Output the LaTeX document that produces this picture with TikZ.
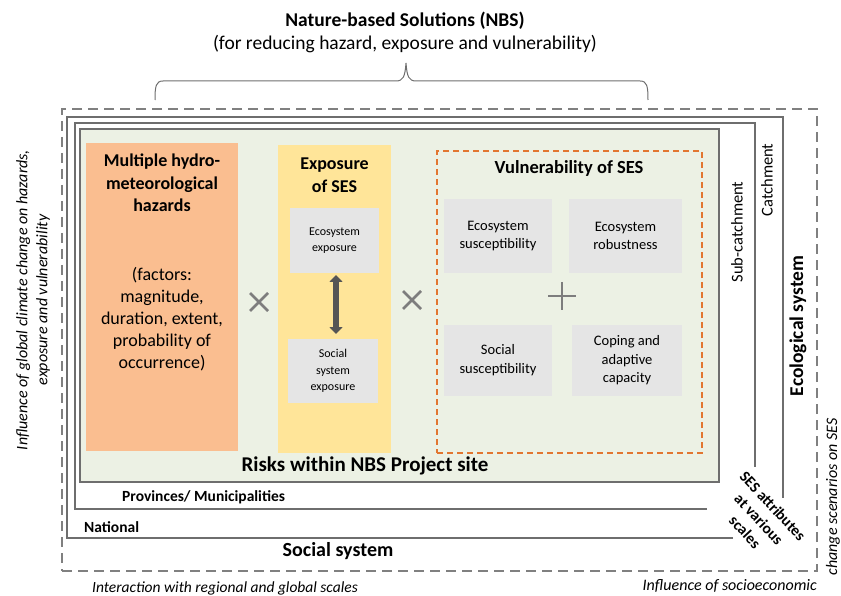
\documentclass[tikz,border=0pt]{standalone}
\usepackage{fontspec}
\setmainfont{Carlito}
\usetikzlibrary{arrows.meta}
\definecolor{greenfill}{RGB}{236,241,228}
\definecolor{orangefill}{RGB}{250,190,144}
\definecolor{yellowfill}{RGB}{255,229,153}
\definecolor{grayfill}{RGB}{229,229,229}
\definecolor{orangeline}{RGB}{226,118,48}
\definecolor{dashgray}{RGB}{128,128,128}
\definecolor{linegray}{RGB}{110,110,110}
\definecolor{signgray}{RGB}{125,125,125}
\definecolor{arrowgray}{RGB}{85,85,85}
\tikzset{
  rbox/.style={draw=none, inner sep=0pt, outer sep=0pt},
  graybox/.style={rbox, fill=grayfill},
  scaleline/.style={draw=linegray, line width=1.1pt},
  txt/.style={inner sep=0pt, align=center},
  sign/.style={draw=signgray, line width=2.8pt},
}
\begin{document}
\begin{tikzpicture}[x=1pt, y=-1pt]
\useasboundingbox (0,0) rectangle (841,596);
% title
\node[txt, font=\fontsize{19.5}{22}\selectfont\bfseries] (title) at (405,21) {Nature-based Solutions (NBS)};
\node[txt, font=\fontsize{19.5}{22}\selectfont] (subtitle) at (405,44) {(for reducing hazard, exposure and vulnerability)};
% brace
\coordinate (bl) at (155,100);
\coordinate (br) at (648,100);
\coordinate (bt) at (406,63);
\draw[draw=linegray, line width=1pt] (bl) .. controls (155,86) and (156,81) .. (163,81) -- (396,81) .. controls (403,81) and (405,77) .. (bt) .. controls (407,77) and (409,81) .. (416,81) -- (640,81) .. controls (647,81) and (648,86) .. (br);
% outer dashed
\node[rbox, draw=dashgray, line width=2.6pt, dash pattern=on 10pt off 6pt, minimum width=755pt, minimum height=462pt] (outer) at (439.5,340) {};
% box A
\draw[scaleline] (733,538) -- (67,538) -- (67,117) -- (783,117) -- (783,498);
% box B
\draw[scaleline] (707,509) -- (75,509) -- (75,123) -- (755,123) -- (755,467);
% box C
\node[rbox, fill=greenfill, draw=linegray, line width=1.5pt, minimum width=639pt, minimum height=353pt] (site) at (399.5,305.5) {};
% hazards
\node[rbox, fill=orangefill, minimum width=152pt, minimum height=308pt] (haz) at (162,297) {};
\node[txt, font=\fontsize{18}{22.5}\selectfont\bfseries] (haztitle) at (162,183) {Multiple hydro-\\meteorological\\hazards};
\node[txt, font=\fontsize{18}{22}\selectfont] (hazfact) at (162,319) {(factors:\\magnitude,\\duration, extent,\\probability of\\occurrence)};
% exposure
\node[rbox, fill=yellowfill, minimum width=113pt, minimum height=308pt] (expo) at (334.5,299) {};
\node[txt, font=\fontsize{18}{23}\selectfont\bfseries] (expotitle) at (334.5,175) {Exposure\\of SES};
\node[graybox, minimum width=89pt, minimum height=65pt] (ecoexp) at (334.5,240.5) {};
\node[txt, font=\fontsize{12}{15.5}\selectfont] at (ecoexp) {Ecosystem\\exposure};
\node[graybox, minimum width=90pt, minimum height=64pt] (socexp) at (333,371) {};
\node[txt, font=\fontsize{12}{16.5}\selectfont] at (socexp) {Social\\system\\exposure};
\draw[draw=arrowgray, line width=5.5pt, {Triangle[width=13pt,length=7pt]}-{Triangle[width=13pt,length=7pt]}] ([yshift=-2pt]ecoexp.south -| 336,0) -- ([yshift=5pt]socexp.north -| 336,0);
% vulnerability
\node[rbox, draw=orangeline, line width=1.8pt, dash pattern=on 6pt off 4pt, minimum width=265pt, minimum height=302pt] (vul) at (569.5,302) {};
\node[txt, font=\fontsize{18.5}{20}\selectfont\bfseries] (vultitle) at (569,168) {Vulnerability of SES};
\node[graybox, minimum width=108pt, minimum height=74pt] (ecosus) at (498,236) {};
\node[txt, font=\fontsize{14.5}{17.5}\selectfont] at (ecosus) {Ecosystem\\susceptibility};
\node[graybox, minimum width=113pt, minimum height=74pt] (ecorob) at (625.5,236) {};
\node[txt, font=\fontsize{14.5}{17.5}\selectfont] at (ecorob) {Ecosystem\\robustness};
\node[graybox, minimum width=108pt, minimum height=71pt] (socsus) at (498,360.5) {};
\node[txt, font=\fontsize{14.5}{19}\selectfont] at (socsus) {Social\\susceptibility};
\node[graybox, minimum width=110pt, minimum height=71pt] (coping) at (627,360.5) {};
\node[txt, font=\fontsize{14.5}{18.5}\selectfont] at (coping) {Coping and\\adaptive\\capacity};
% signs
\coordinate (x1) at (259,302);
\draw[sign] ([shift={(-9,-9)}]x1) -- ([shift={(9,9)}]x1) ([shift={(-9,9)}]x1) -- ([shift={(9,-9)}]x1);
\coordinate (x2) at (412,300);
\draw[sign] ([shift={(-9,-9)}]x2) -- ([shift={(9,9)}]x2) ([shift={(-9,9)}]x2) -- ([shift={(9,-9)}]x2);
\coordinate (plus) at (562,296);
\draw[sign] ([shift={(-14,0)}]plus) -- ([shift={(14,0)}]plus) ([shift={(0,-14)}]plus) -- ([shift={(0,14)}]plus);
% labels
\node[txt, font=\fontsize{21}{23}\selectfont\bfseries] (risks) at (365,466) {Risks within NBS Project site};
\node[txt, anchor=west, font=\fontsize{15.5}{17}\selectfont\bfseries] (prov) at (122,497) {Provinces/ Municipalities};
\node[txt, anchor=west, font=\fontsize{15.5}{17}\selectfont\bfseries] (nat) at (84,527) {National};
\node[txt, font=\fontsize{20}{22}\selectfont\bfseries] (social) at (338,551) {Social system};
\node[txt, anchor=west, font=\fontsize{15.5}{17}\selectfont\itshape] (interact) at (92,588) {Interaction with regional and global scales};
\node[txt, anchor=east, font=\fontsize{16}{17}\selectfont\itshape] (socio) at (817,586) {Influence of socioeconomic};
\node[txt, rotate=90, font=\fontsize{16}{17}\selectfont\itshape] (change) at (833,497) {change scenarios on SES};
\node[txt, rotate=90, font=\fontsize{16}{20}\selectfont\itshape] (climate) at (33,300) {Influence of global climate change on hazards,\\exposure and vulnerability};
\node[txt, rotate=90, font=\fontsize{16.5}{18}\selectfont] (subc) at (737,232) {Sub-catchment};
\node[txt, rotate=90, font=\fontsize{16.5}{18}\selectfont] (catch) at (767,180) {Catchment};
\node[txt, rotate=90, font=\fontsize{19.5}{21}\selectfont\bfseries] (eco) at (798,326) {Ecological system};
\node[txt, rotate=-47, fill=white, inner sep=1pt, font=\fontsize{15.5}{19}\selectfont\bfseries] (sesattr) at (759,519) {SES attributes\\at various\\scales};
\end{tikzpicture}
\end{document}
